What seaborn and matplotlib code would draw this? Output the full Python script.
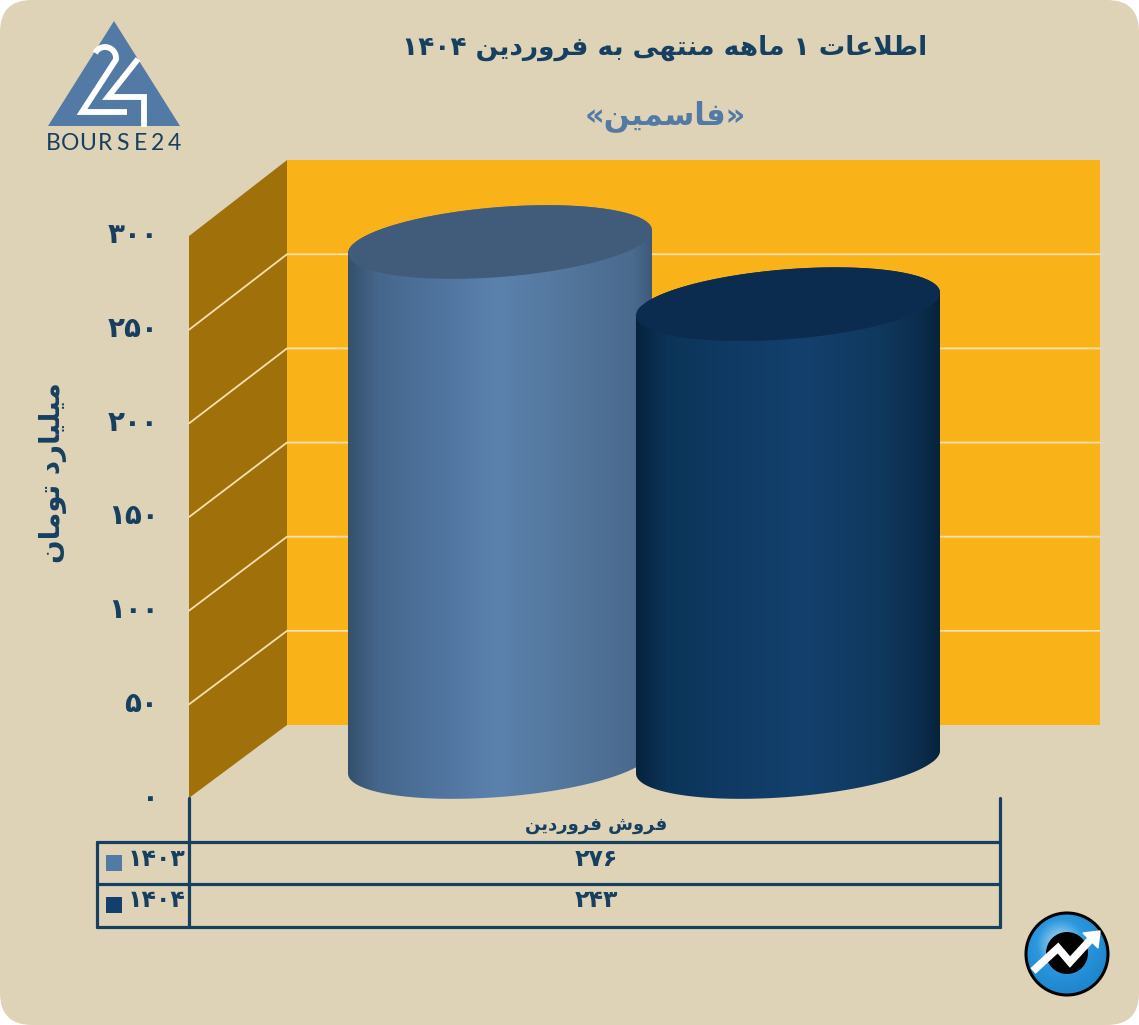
import re
import numpy as np
import pandas as pd
import matplotlib
matplotlib.use('Agg')
import matplotlib.pyplot as plt
import seaborn as sns
from matplotlib.colors import LinearSegmentedColormap
from matplotlib.patches import Circle, FancyBboxPatch, PathPatch, Polygon, Rectangle
from matplotlib.path import Path

# DATA
periods = ['1403', '1404']
sales = [276, 243]
y_ticks = [0, 50, 100, 150, 200, 250, 300]
title_text = 'اطلاعات 1 ماهه منتهی به فروردین 1404'
subtitle_text = '«فاسمین»'
y_label_text = 'میلیارد تومان'
category_text = 'فروش فروردین'

W, H = 1139, 1025
NAVY = '#173F60'
STEEL = '#5379A5'
DARK_BLUE = '#123F6D'

# matplotlib does no arabic shaping, so pick the presentation forms by hand
FORMS = {
    'ا': (0xFE8D, 0xFE8E), 'ب': (0xFE8F, 0xFE90, 0xFE91, 0xFE92),
    'ت': (0xFE95, 0xFE96, 0xFE97, 0xFE98), 'د': (0xFEA9, 0xFEAA),
    'ر': (0xFEAD, 0xFEAE), 'س': (0xFEB1, 0xFEB2, 0xFEB3, 0xFEB4),
    'ش': (0xFEB5, 0xFEB6, 0xFEB7, 0xFEB8), 'ط': (0xFEC1, 0xFEC2, 0xFEC3, 0xFEC4),
    'ع': (0xFEC9, 0xFECA, 0xFECB, 0xFECC), 'ف': (0xFED1, 0xFED2, 0xFED3, 0xFED4),
    'ل': (0xFEDD, 0xFEDE, 0xFEDF, 0xFEE0), 'م': (0xFEE1, 0xFEE2, 0xFEE3, 0xFEE4),
    'ن': (0xFEE5, 0xFEE6, 0xFEE7, 0xFEE8), 'ه': (0xFEE9, 0xFEEA, 0xFEEB, 0xFEEC),
    'و': (0xFEED, 0xFEEE), 'ی': (0xFBFC, 0xFBFD, 0xFBFE, 0xFBFF),
}
MIRROR = {'«': '»', '»': '«'}


def fa_digits(value):
    return str(value).translate(str.maketrans('0123456789', '۰۱۲۳۴۵۶۷۸۹'))


def shape(text):
    text = fa_digits(text)
    out = []
    i = 0
    while i < len(text):
        ch = text[i]
        if ch not in FORMS:
            out.append(ch)
            i += 1
            continue
        prev = text[i - 1] if i else ''
        after_join = prev in FORMS and len(FORMS[prev]) == 4
        if ch == 'ل' and text[i + 1:i + 2] == 'ا':
            out.append(chr(0xFEFC if after_join else 0xFEFB))
            i += 2
            continue
        nxt = text[i + 1] if i + 1 < len(text) else ''
        before_join = nxt in FORMS and len(FORMS[ch]) == 4
        if after_join and before_join:
            out.append(chr(FORMS[ch][3]))
        elif before_join:
            out.append(chr(FORMS[ch][2]))
        elif after_join:
            out.append(chr(FORMS[ch][1]))
        else:
            out.append(chr(FORMS[ch][0]))
        i += 1
    # visual order: everything right to left except digit runs
    parts = re.findall(r'[۰-۹]+|[^۰-۹]+', ''.join(out))
    visual = [p if p[0] in '۰۱۲۳۴۵۶۷۸۹' else ''.join(MIRROR.get(c, c) for c in reversed(p))
              for p in reversed(parts)]
    return ''.join(visual)


sns.set_theme(style='white')
plt.rcParams['font.family'] = ['DejaVu Sans']
fig = plt.figure(figsize=(W / 100, H / 100), dpi=100, facecolor='white')

# background layer in pixel coordinates
bg = fig.add_axes([0, 0, 1, 1], zorder=0)
bg.set_xlim(0, W)
bg.set_ylim(H, 0)
bg.axis('off')
bg.add_patch(FancyBboxPatch((32, 32), W - 64, H - 64, boxstyle='round,pad=32,rounding_size=32',
                            fc='#DFD3B7', ec='none'))


def front_y(v):
    return 798 - v * 1.873


def back_y(v):
    return 725 - v * 1.883


# walls
bg.add_patch(Rectangle((287, back_y(300)), 813, back_y(0) - back_y(300), fc='#FAB219', ec='none'))
bg.add_patch(Polygon([(189, front_y(300)), (287, back_y(300)), (287, back_y(0)), (189, front_y(0))],
                     fc='#A0710B', ec='none'))
for v in y_ticks[1:-1]:
    bg.plot([189, 287, 1100], [front_y(v), back_y(v), back_y(v)], color='#F5E0AE', lw=1.3)

# table
for xs, ys in [([189, 189], [798, 927]), ([1000, 1000], [798, 927]), ([97, 97], [842, 927]),
               ([97, 1000], [842, 842]), ([97, 1000], [884, 884]), ([97, 1000], [927, 927])]:
    bg.plot(xs, ys, color=NAVY, lw=2.3, solid_capstyle='round')
bg.text(596, 825, shape(category_text), ha='center', va='center', fontsize=13, color=NAVY, fontweight='bold')
for row_y, text_y, swatch, period, val in zip([855, 897], [859, 900], [STEEL, DARK_BLUE], periods, sales):
    bg.add_patch(Rectangle((106, row_y), 16, 16, fc=swatch, ec='none'))
    bg.text(186, text_y, shape(period), ha='right', va='center', fontsize=17, color=NAVY, fontweight='bold')
    bg.text(596, text_y, shape(val), ha='center', va='center', fontsize=17, color=NAVY, fontweight='bold')

# titles
bg.text(665, 48, shape(title_text), ha='center', va='center', fontsize=19, color=NAVY, fontweight='bold')
bg.text(665, 116, shape(subtitle_text), ha='center', va='center', fontsize=22, color=STEEL, fontweight='bold')
bg.text(53, 473, shape(y_label_text), ha='center', va='center', rotation=90, fontsize=20, color=NAVY,
        fontweight='bold')

# bourse24 logo
bg.add_patch(Polygon([(114, 21), (180, 126), (48, 126)], fc=STEEL, ec='none'))
arc = np.linspace(np.pi * 1.15, np.pi * 2.05, 20)
two_x = list(105 + 11 * np.cos(arc)) + [82, 127]
two_y = list(58 + 11 * np.sin(arc)) + [112, 112]
bg.plot(two_x, two_y, color='white', lw=4.2, solid_joinstyle='miter', solid_capstyle='butt')
bg.plot([138, 108, 144, 144], [59, 97, 97, 127], color='white', lw=4.2, solid_joinstyle='miter',
        solid_capstyle='butt')
for i, ch in enumerate('BOURSE24'):
    bg.text(53 + i * 17.4, 144, ch, ha='center', va='center', fontsize=16.5, color=NAVY, family='Lato')

# round icon bottom right
yy, xx = np.mgrid[-1:1:200j, -1:1:200j]
rr = np.hypot(xx + 0.15, yy + 0.25)
icon_cmap = LinearSegmentedColormap.from_list('icon', ['#BFE2F5', '#2B97DD', '#1E86CE'])
icon = bg.imshow(rr, extent=[1026, 1108, 995, 913], cmap=icon_cmap, vmin=0, vmax=1.2, aspect='auto', zorder=3)
ring = Circle((1067, 954), 41, fc='none', ec='black', lw=2.2, zorder=4)
bg.add_patch(ring)
icon.set_clip_path(ring)
bg.add_patch(Circle((1067, 953), 21, fc='black', ec='none', zorder=4))
bg.plot([1033, 1058, 1070, 1092], [971, 948, 962, 938], color='white', lw=5.5, solid_joinstyle='miter',
        solid_capstyle='butt', zorder=5)
bg.add_patch(Polygon([(1083, 933), (1100, 931), (1098, 948)], fc='white', ec='white', lw=1, zorder=5))
bg.set_xlim(0, W)
bg.set_ylim(H, 0)

# value axis sitting on the front edge of the side wall
ax_y = fig.add_axes([189 / W, 1 - 795 / H, 98 / W, (795 - 232) / H], zorder=1)
ax_y.patch.set_alpha(0)
ax_y.set_ylim(0, 300)
ax_y.set_yticks(y_ticks)
ax_y.set_yticklabels([shape(t) for t in y_ticks], fontsize=20, color=NAVY, fontweight='bold')
ax_y.tick_params(axis='y', length=0, pad=22, left=False)
ax_y.set_xticks([])
for s in ax_y.spines.values():
    s.set_visible(False)

# bars: full figure axes, zero line of the cylinders at pixel 762
PX_PER_VALUE = 1.884
PX_PER_CAT = 288
ax = fig.add_axes([0, 0, 1, 1], zorder=2)
ax.patch.set_alpha(0)
df = pd.DataFrame({'period': periods, 'sales': sales})
sns.barplot(data=df, x='period', y='sales', hue='period', palette=[STEEL, DARK_BLUE], saturation=1,
            width=304 / PX_PER_CAT, legend=False, ax=ax)
xlim = (-500 / PX_PER_CAT, (W - 500) / PX_PER_CAT)
ylim = ((762 - H) / PX_PER_VALUE, 762 / PX_PER_VALUE)
ax.axis('off')

body_stops = [[(0, '#35506E'), (0.1, '#46678C'), (0.3, '#4F749E'), (0.49, '#5B82AD'), (0.76, '#527499'),
               (0.94, '#4A6A8E'), (1, '#3D5A7B')],
              [(0, '#06233D'), (0.1, '#0C3458'), (0.3, '#0F3A63'), (0.55, '#13406D'), (0.8, '#10395F'),
               (0.94, '#0B2C4C'), (1, '#07233C')]]
top_colors = ['#415B7B', '#0B2C4F']
SHEAR = 11.5
DEPTH = 35


def rim(cx, half, v, t):
    xs = cx + half * np.cos(t)
    ys = v + (SHEAR * np.cos(t) + DEPTH * np.sin(t)) / PX_PER_VALUE
    return np.column_stack([xs, ys])


for i, patch in enumerate(ax.patches):
    x0 = patch.get_x()
    half = patch.get_width() / 2
    cx = x0 + half
    top = patch.get_height()
    lower = rim(cx, half, 0, np.linspace(np.pi, 2 * np.pi, 60))
    upper = rim(cx, half, top, np.linspace(0, np.pi, 60))
    outline = Path(np.vstack([lower, upper, lower[:1]]), closed=True)
    body = PathPatch(outline, transform=ax.transData, fc='none', ec='none')
    ax.add_patch(body)
    patch.set_zorder(2 + i * 2)
    patch.set_clip_path(body)
    cmap = LinearSegmentedColormap.from_list(f'cyl{i}', body_stops[i])
    img = ax.imshow(np.linspace(0, 1, 256).reshape(1, -1), extent=[x0, x0 + 2 * half, -40, top + 40],
                    cmap=cmap, aspect='auto', zorder=2.5 + i * 2)
    img.set_clip_path(body)
    ax.add_patch(Polygon(rim(cx, half, top, np.linspace(0, 2 * np.pi, 120)), fc=top_colors[i], ec='none',
                         zorder=3 + i * 2))
ax.set_xlim(*xlim)
ax.set_ylim(*ylim)

fig.savefig('out.png', dpi=100, facecolor='white')
